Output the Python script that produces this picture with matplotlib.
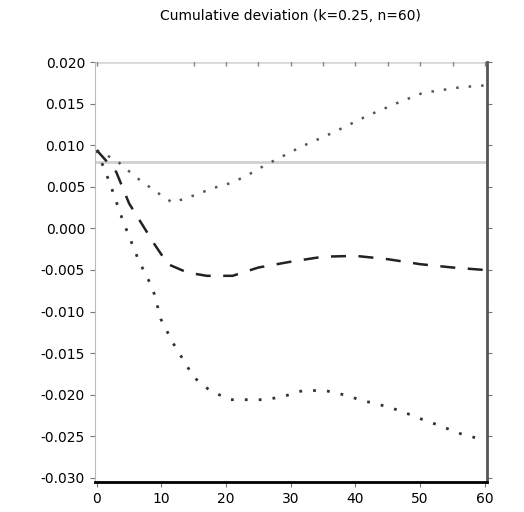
import matplotlib
matplotlib.use("Agg")
import matplotlib.pyplot as plt
import numpy as np

# x positions and values for each curve
x_a = [0, 3, 6, 9, 11.7, 14.4, 18.2, 20.9, 23.3, 26, 31.8, 35.6, 38.3, 41.7, 46.8, 50.4, 56.4, 60]
y_a = [0.0094, 0.0082, 0.0062, 0.0045, 0.0031, 0.0038, 0.0049, 0.0055, 0.0064, 0.0076,
       0.0099, 0.0112, 0.0122, 0.0135, 0.0152, 0.0163, 0.0170, 0.0172]

x_b = [0, 3, 5, 7, 9, 11, 14, 17, 21, 25, 30, 35, 40, 45, 50, 55, 60]
y_b = [0.0094, 0.0068, 0.0030, 0.0005, -0.0020, -0.0043, -0.0053, -0.0057, -0.0057, -0.0047,
       -0.0040, -0.0034, -0.0033, -0.0037, -0.0043, -0.0047, -0.0050]

x_c = [0, 2, 4, 6.5, 8, 8.9, 9.9, 11.8, 15, 17.5, 20.6, 23, 26.3, 29.3, 31.9, 35.3, 38.7,
       40.6, 44.2, 46.8, 50.4, 52.6, 56.6, 59.2, 60]
y_c = [0.0094, 0.0055, 0.0010, -0.0039, -0.0062, -0.0079, -0.0109, -0.0138, -0.0179, -0.0195,
       -0.0206, -0.0206, -0.0206, -0.0201, -0.0195, -0.0195, -0.0201, -0.0206, -0.0213, -0.0219,
       -0.0230, -0.0236, -0.0248, -0.0253, -0.0254]

# flat reference levels
x_top = [0, 15, 20, 25, 30, 35, 40, 45, 50, 55, 60]
y_top = [0.020] * len(x_top)
baseline = 0.008

x_ticks = [0, 10, 20, 30, 40, 50, 60]
y_ticks = [0.020, 0.015, 0.010, 0.005, 0.000, -0.005, -0.010, -0.015, -0.020, -0.025, -0.030]

fig = plt.figure(figsize=(5.24, 5.12), dpi=100)
ax = fig.add_axes([0.181, 0.0586, 0.748, 0.820])

ax.axhline(baseline, color="#d0d0d0", lw=2)
ax.plot(x_top, y_top, color="#d8d8d8", lw=2, marker="|", ms=6, mec="#888888", zorder=1)

sparse = (0, (1, 4))
ax.plot(x_a, y_a, linestyle=sparse, color="#555555", lw=1.8)
ax.plot(x_b, y_b, "--", color="#222222", lw=1.8, dashes=(6, 5))
ax.plot(x_c, y_c, linestyle=sparse, color="#333333", lw=2)

ax.set_xlim(-0.3, 60.3)
ax.set_ylim(-0.0305, 0.0200)
ax.set_xticks(x_ticks)
ax.set_yticks(y_ticks)
ax.set_yticklabels([f"{v:.3f}" for v in y_ticks])

ax.spines["left"].set_color("#bbbbbb")
ax.spines["top"].set_visible(False)
ax.spines["right"].set_color("#555555")
ax.spines["right"].set_linewidth(2)
ax.spines["bottom"].set_color("black")
ax.spines["bottom"].set_linewidth(2)
ax.tick_params(axis="both", labelsize=10, color="#777777")
ax.tick_params(axis="y", right=True, direction="out")

ax.set_title("Cumulative deviation (k=0.25, n=60)", fontsize=10, pad=30)

fig.savefig("out.png", dpi=100)
